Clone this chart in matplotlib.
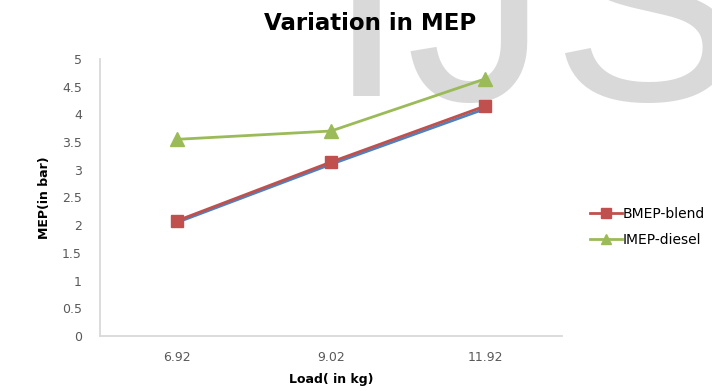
import matplotlib
matplotlib.use("Agg")
import matplotlib.pyplot as plt
import numpy as np

loads = ["6.92", "9.02", "11.92"]
bmep_diesel = [2.05, 3.10, 4.10]
bmep_blend = [2.08, 3.14, 4.15]
imep_diesel = [3.55, 3.70, 4.64]

plt.rcParams['font.family'] = ['DejaVu Sans']

fig = plt.figure(figsize=(7.12, 3.91), dpi=100)

# big grey watermark letters sitting behind the chart
for ch, left, base in [("I", 327, 96), ("J", 405, 100), ("S", 551, 100)]:
    fig.text(left / 712, 1 - base / 391, ch, fontsize=205, color="#d9d9d9",
             family="Liberation Sans", ha="left", va="baseline", zorder=-5)

ax = fig.add_axes([100 / 712, 55 / 391, 462 / 712, 277 / 391])
ax.patch.set_alpha(0)

x = np.arange(len(loads))
ax.plot(x, bmep_diesel, color="#4F81BD", lw=2.0, marker="D", ms=3)
ax.plot(x, bmep_blend, color="#C0504D", lw=2.0, marker="s", ms=9, label="BMEP-blend")
ax.plot(x, imep_diesel, color="#9BBB59", lw=2.0, marker="^", ms=9.5, label="IMEP-diesel")

ax.set_xlim(-0.5, len(loads) - 0.5)
ax.set_ylim(0, 5)
yt = np.arange(0, 5.01, 0.5)
ax.set_yticks(yt)
ax.set_yticklabels([f"{v:g}" for v in yt])
ax.set_xticks(x)
ax.set_xticklabels(loads)
ax.tick_params(length=0, labelsize=9, colors="#595959")
ax.tick_params(axis="y", pad=13)
ax.tick_params(axis="x", pad=11)

for side in ["top", "right"]:
    ax.spines[side].set_visible(False)
for side in ["left", "bottom"]:
    ax.spines[side].set_color("#d9d9d9")
    ax.spines[side].set_linewidth(1.3)

ax.set_xlabel("Load( in kg)", fontsize=9, fontweight="bold", labelpad=6)
ax.set_ylabel("MEP(in bar)", fontsize=9, fontweight="bold", labelpad=8)

fig.text(370 / 712, 1 - 23 / 391, "Variation in MEP", fontsize=16.5,
         fontweight="bold", ha="center", va="center")

fig.legend(loc="upper left", bbox_to_anchor=(584 / 712, 1 - 201 / 391),
           frameon=False, fontsize=10, handlelength=2.3, handletextpad=0.1,
           labelspacing=0.9, borderaxespad=0, markerscale=0.8)

fig.savefig("out.png", dpi=100)
